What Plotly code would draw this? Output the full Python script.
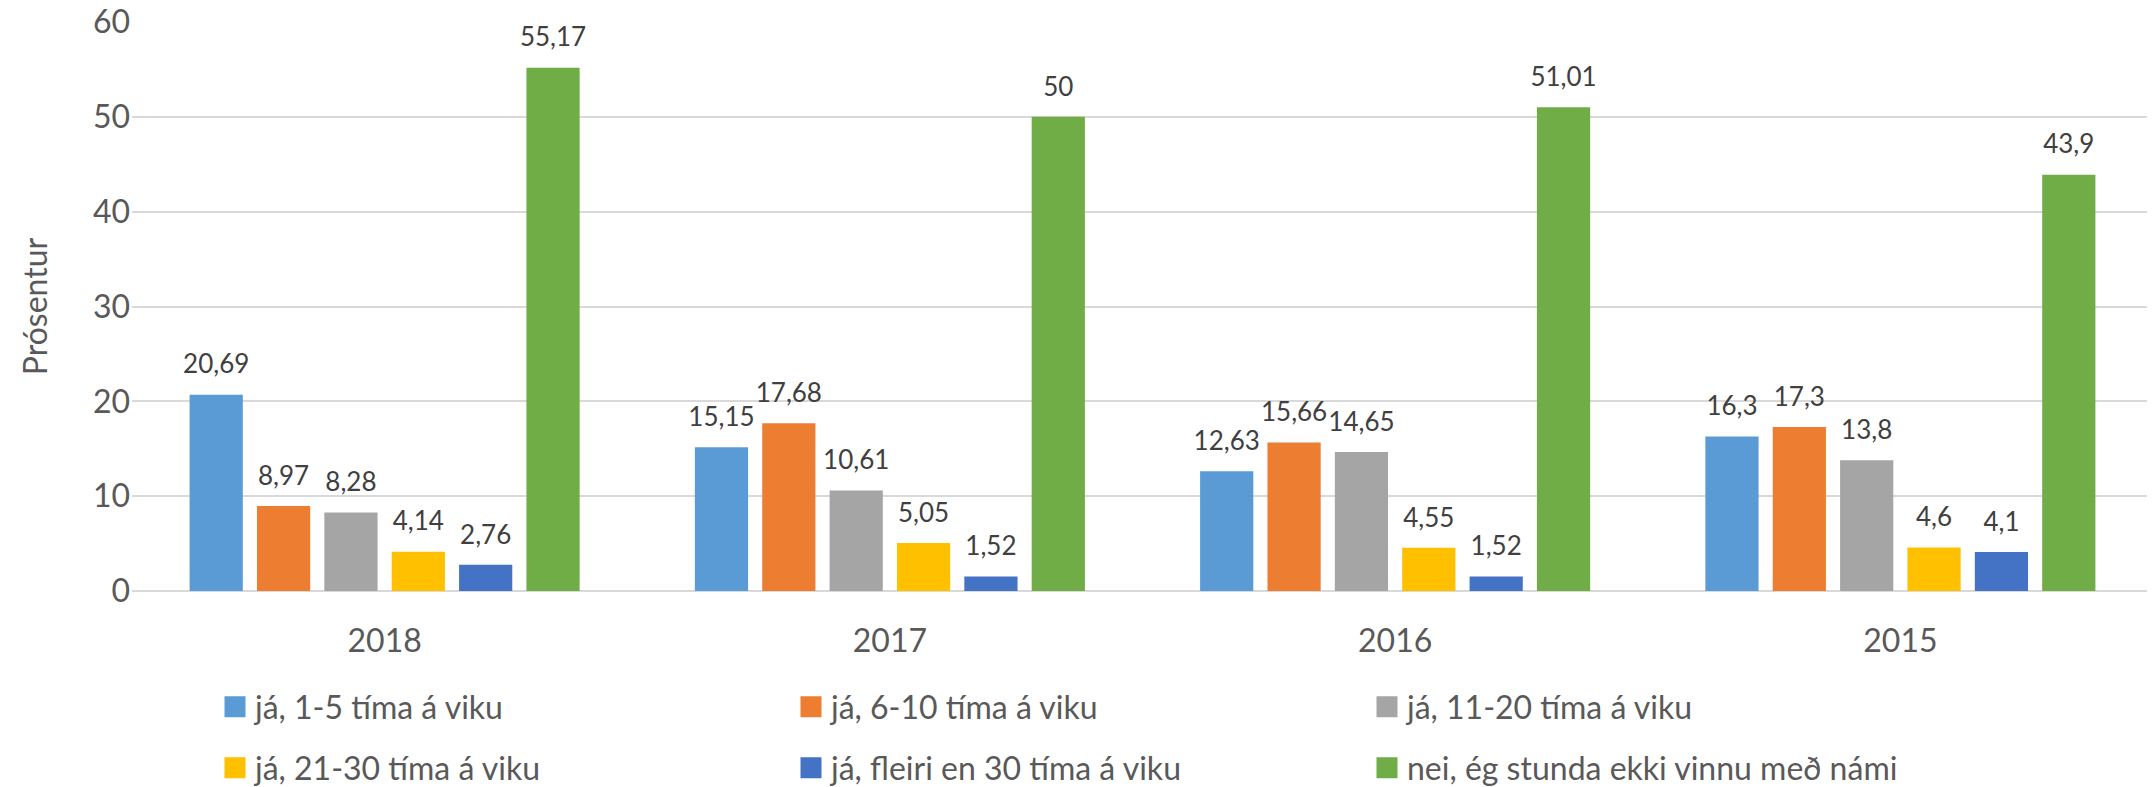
import plotly.graph_objects as go

years = ["2018", "2017", "2016", "2015"]
series_names = [
    "já, 1-5 tíma á viku",
    "já, 6-10 tíma á viku",
    "já, 11-20 tíma á viku",
    "já, 21-30 tíma á viku",
    "já, fleiri en 30 tíma á viku",
    "nei, ég stunda ekki vinnu með námi",
]
v_1_5 = [20.69, 15.15, 12.63, 16.3]
v_6_10 = [8.97, 17.68, 15.66, 17.3]
v_11_20 = [8.28, 10.61, 14.65, 13.8]
v_21_30 = [4.14, 5.05, 4.55, 4.6]
v_30plus = [2.76, 1.52, 1.52, 4.1]
v_nei = [55.17, 50, 51.01, 43.9]
labels_1_5 = ["20,69", "15,15", "12,63", "16,3"]
labels_6_10 = ["8,97", "17,68", "15,66", "17,3"]
labels_11_20 = ["8,28", "10,61", "14,65", "13,8"]
labels_21_30 = ["4,14", "5,05", "4,55", "4,6"]
labels_30plus = ["2,76", "1,52", "1,52", "4,1"]
labels_nei = ["55,17", "50", "51,01", "43,9"]
y_ticks = [0, 10, 20, 30, 40, 50, 60]

colors = ["#5B9BD5", "#ED7D31", "#A5A5A5", "#FFC000", "#4472C4", "#70AD47"]
values = [v_1_5, v_6_10, v_11_20, v_21_30, v_30plus, v_nei]
labels = [labels_1_5, labels_6_10, labels_11_20, labels_21_30, labels_30plus, labels_nei]

FONT = "Lato"
Y_MAX = 60
LABEL_LIFT = 1.3  # extra room between bar top and its value label (axis units)

fig = go.Figure()
# visible bars
for name, vals, col in zip(series_names, values, colors):
    fig.add_trace(go.Bar(
        x=years, y=vals, name=name,
        marker=dict(color=col, line=dict(width=0)),
        showlegend=False, hoverinfo="skip",
    ))
# transparent copies on an overlaid axis, carrying the value labels a bit higher
for name, vals, labs in zip(series_names, values, labels):
    fig.add_trace(go.Bar(
        x=years, y=vals, name=name, text=labs, yaxis="y2",
        textposition="outside", cliponaxis=False, constraintext="none",
        textfont=dict(family=FONT, size=26, color="#404040"),
        marker=dict(color="rgba(0,0,0,0)", line=dict(width=0)),
        showlegend=False, hoverinfo="skip",
    ))

# legend entries (two rows -> two legends)
for i, (name, col) in enumerate(zip(series_names, colors)):
    fig.add_trace(go.Scatter(
        x=[None], y=[None], mode="markers", name=name,
        marker=dict(symbol="square", size=16, color=col, line=dict(color=col, width=5)),
        legend="legend" if i < 3 else "legend2",
        showlegend=True, hoverinfo="skip",
    ))

# page body has an 8px margin, so the figure is 8px smaller than the window
W, H = 2147, 779
L, R, T, B = 124, 2, 14, 196
pw = W - L - R
ph = H - T - B

def px_x(x):
    return (x - L) / pw

def px_y(y):
    return (H - B - y) / ph

legend_common = dict(
    orientation="h", xanchor="left", yanchor="middle",
    font=dict(family=FONT, size=32, color="#595959"),
    entrywidth=531, entrywidthmode="pixels",
    bgcolor="rgba(0,0,0,0)", borderwidth=0,
    traceorder="normal",
)

fig.update_layout(
    width=W, height=H,
    margin=dict(l=L, r=R, t=T, b=B, autoexpand=False),
    paper_bgcolor="white", plot_bgcolor="white",
    barmode="group", bargap=0.2, bargroupgap=0.21,
    font=dict(family=FONT, color="#595959"),
    legend=dict(x=px_x(207), y=px_y(699), **legend_common),
    legend2=dict(x=px_x(207), y=px_y(760), **legend_common),
    xaxis=dict(
        type="category", showgrid=False, showline=False, zeroline=False,
        tickfont=dict(family=FONT, size=32, color="#595959"),
        ticks="", ticklabelstandoff=28,
    ),
    yaxis=dict(
        range=[0, Y_MAX], tickvals=y_ticks, showgrid=True, gridcolor="#D9D9D9", gridwidth=1.5,
        zeroline=True, zerolinecolor="#D9D9D9", zerolinewidth=1.5,
        showline=False, ticks="", ticklabelstandoff=1, ticklabeloverflow="allow",
        tickfont=dict(family=FONT, size=32, color="#595959"),
        title=dict(text="Prósentur", font=dict(family=FONT, size=32, color="#595959"), standoff=35),
    ),
    yaxis2=dict(
        overlaying="y", range=[-LABEL_LIFT, Y_MAX - LABEL_LIFT],
        visible=False, showgrid=False, zeroline=False,
    ),
)

fig.write_html("out.html")
